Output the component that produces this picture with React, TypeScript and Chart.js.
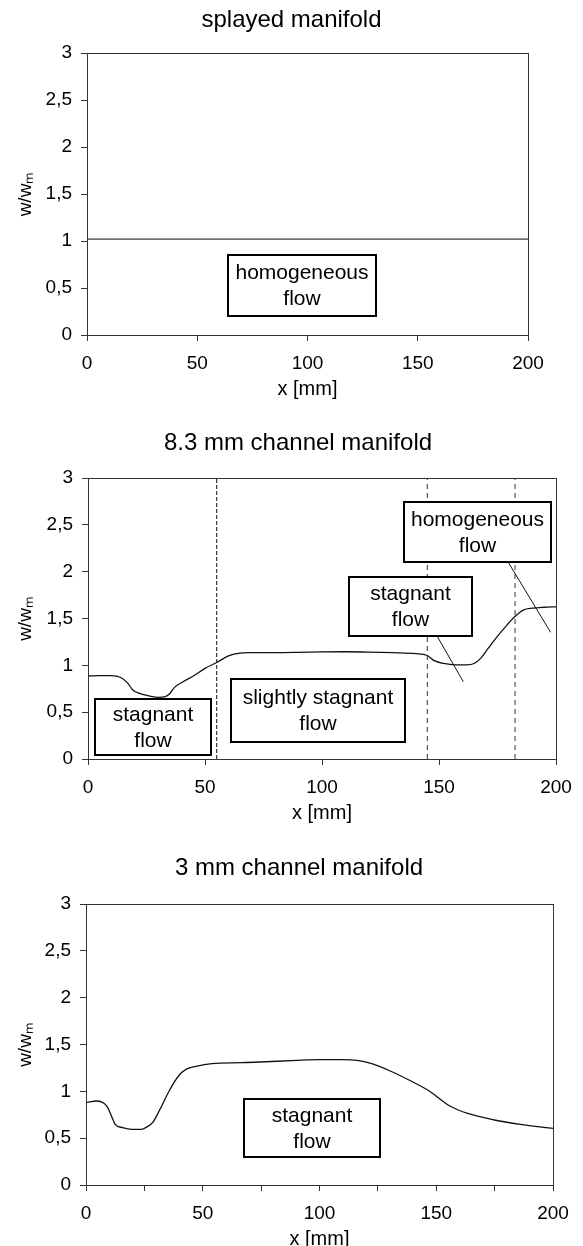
import React, { useEffect, useRef } from 'react';
import { Chart, registerables } from 'chart.js';

Chart.register(...registerables);

const FONT = "Arial, 'Liberation Sans', Helvetica, sans-serif";

// ---- text ----
const titles = ['splayed manifold', '8.3 mm channel manifold', '3 mm channel manifold'];
const xAxisTitle = 'x [mm]';
const yAxisTitle = 'w/wₘ';
const xTickLabels = ['0', '50', '100', '150', '200'];
const yTickLabels = ['0', '0,5', '1', '1,5', '2', '2,5', '3'];

// ---- chart 1: splayed manifold ----
const splayedX = [0, 200];
const splayedY = [1.02, 1.02];

// ---- chart 2: 8.3 mm channel manifold ----
const ch83X = [0, 5, 10, 14, 17, 19, 22, 26, 30, 33, 35, 37, 41, 45, 50, 55, 60, 65, 70, 80, 90, 100, 110, 120, 130, 140, 145, 148, 152, 157, 162, 165, 168, 171, 174, 178, 182, 186, 190, 195, 200];
const ch83Y = [0.886, 0.89, 0.89, 0.87, 0.81, 0.74, 0.7, 0.675, 0.658, 0.665, 0.7, 0.765, 0.83, 0.886, 0.968, 1.03, 1.1, 1.13, 1.135, 1.135, 1.138, 1.143, 1.145, 1.142, 1.135, 1.125, 1.105, 1.05, 1.02, 1.005, 1.005, 1.02, 1.08, 1.18, 1.28, 1.4, 1.51, 1.59, 1.61, 1.62, 1.625];
const ch83Dividers = [55, 145, 182.5];
const ch83LeaderFromX = [149, 179.6];
const ch83LeaderFromY = [1.32, 2.1];
const ch83LeaderToX = [160.4, 197.7];
const ch83LeaderToY = [0.825, 1.353];

// ---- chart 3: 3 mm channel manifold ----
const ch3X = [0, 4.6, 7.7, 9.3, 10.9, 12.5, 15.7, 19.7, 23.7, 26.1, 28.5, 31.7, 35.6, 39.6, 42.8, 47.6, 53.9, 66.7, 74.6, 90.5, 100.1, 109.7, 116, 122.4, 130.3, 138.3, 147, 155.8, 163.8, 174.9, 186, 200];
const ch3Y = [0.879, 0.897, 0.872, 0.826, 0.737, 0.648, 0.612, 0.594, 0.594, 0.62, 0.665, 0.808, 1.004, 1.164, 1.235, 1.27, 1.295, 1.306, 1.313, 1.331, 1.338, 1.338, 1.331, 1.295, 1.217, 1.121, 1.004, 0.843, 0.761, 0.694, 0.648, 0.605];

type Box = { x0: number; x1: number; y0: number; y1: number; lines: string[] };

const boxes1: Box[] = [{ x0: 64, x1: 131, y0: 0.2, y1: 0.85, lines: ['homogeneous', 'flow'] }];
const boxes2: Box[] = [
  { x0: 3.1, x1: 52.5, y0: 0.04, y1: 0.64, lines: ['stagnant', 'flow'] },
  { x0: 61.2, x1: 135.6, y0: 0.185, y1: 0.857, lines: ['slightly stagnant', 'flow'] },
  { x0: 111.4, x1: 164.1, y0: 1.316, y1: 1.946, lines: ['stagnant', 'flow'] },
  { x0: 135.1, x1: 198.0, y0: 2.1, y1: 2.74, lines: ['homogeneous', 'flow'] },
];
const boxes3: Box[] = [{ x0: 67.5, x1: 125.9, y0: 0.3, y1: 0.92, lines: ['stagnant', 'flow'] }];

const zip = (xs: number[], ys: number[]) => xs.map((x, i) => ({ x, y: ys[i] }));

const framePlugin = {
  id: 'frame',
  afterDraw(chart: any) {
    const { ctx, chartArea: a } = chart;
    ctx.save();
    ctx.strokeStyle = '#333';
    ctx.lineWidth = 1;
    const l = Math.round(a.left) + 0.5;
    const t = Math.round(a.top) + 0.5;
    const r = Math.round(a.right) + 0.5;
    const b = Math.round(a.bottom) + 0.5;
    ctx.strokeRect(l, t, r - l, b - t);
    ctx.restore();
  },
};

const makeBoxPlugin = (boxes: Box[]) => ({
  id: 'labelBoxes',
  afterDatasetsDraw(chart: any) {
    const { ctx } = chart;
    const xs = chart.scales.x;
    const ys = chart.scales.y;
    ctx.save();
    for (const bx of boxes) {
      const l = Math.round(xs.getPixelForValue(bx.x0));
      const r = Math.round(xs.getPixelForValue(bx.x1));
      const t = Math.round(ys.getPixelForValue(bx.y1));
      const b = Math.round(ys.getPixelForValue(bx.y0));
      ctx.fillStyle = '#fff';
      ctx.fillRect(l, t, r - l, b - t);
      ctx.strokeStyle = '#000';
      ctx.lineWidth = 2;
      ctx.strokeRect(l, t, r - l, b - t);
      ctx.fillStyle = '#000';
      ctx.font = `21px ${FONT}`;
      ctx.textAlign = 'center';
      ctx.textBaseline = 'middle';
      const cx = (l + r) / 2;
      const cy = (t + b) / 2;
      const gap = 26;
      const n = bx.lines.length;
      bx.lines.forEach((s, i) => {
        ctx.fillText(s, cx, cy + (i - (n - 1) / 2) * gap + 1);
      });
    }
    ctx.restore();
  },
});

type Panel = {
  width: number;
  height: number;
  top: number;
  title: string;
  titleTop: number;
  titleBottom: number;
  rightGap: number;
  padBottom: number;
  yWidth: number;
  xStep: number;
  datasets: any[];
  boxes: Box[];
};

function makeConfig(p: Panel): any {
  return {
    type: 'line',
    data: { datasets: p.datasets },
    options: {
      animation: false,
      responsive: false,
      devicePixelRatio: 1,
      layout: { padding: { left: 0, right: 0, top: 0, bottom: p.padBottom } },
      plugins: {
        legend: { display: false },
        tooltip: { enabled: false },
        title: {
          display: true,
          text: p.title,
          color: '#000',
          font: { family: FONT, size: 24, weight: 'normal', lineHeight: 1 },
          padding: { top: p.titleTop, bottom: p.titleBottom },
        },
      },
      scales: {
        x: {
          type: 'linear',
          min: 0,
          max: 200,
          ticks: {
            stepSize: p.xStep,
            autoSkip: false,
            maxRotation: 0,
            color: '#000',
            padding: 11,
            font: { family: FONT, size: 19 },
            callback: (v: number) => (v % 50 === 0 ? xTickLabels[Math.round(v / 50)] : ''),
          },
          grid: { drawOnChartArea: false, drawTicks: true, tickLength: 6, color: '#333' },
          border: { color: '#333' },
          title: {
            display: true,
            text: xAxisTitle,
            color: '#000',
            font: { family: FONT, size: 20 },
            padding: { top: 0, bottom: 0 },
          },
          afterFit: (s: any) => {
            s.height = 66;
          },
        },
        y: {
          type: 'linear',
          min: 0,
          max: 3,
          ticks: {
            stepSize: 0.5,
            color: '#000',
            padding: 9,
            font: { family: FONT, size: 19 },
            callback: (v: number) => yTickLabels[Math.round(v / 0.5)],
          },
          grid: { drawOnChartArea: false, drawTicks: true, tickLength: 6, color: '#333' },
          border: { color: '#333' },
          title: {
            display: true,
            text: yAxisTitle,
            color: '#000',
            font: { family: FONT, size: 19 },
            padding: { top: 6, bottom: 0 },
          },
          afterFit: (s: any) => {
            s.width = p.yWidth;
          },
        },
        yRightGap: {
          type: 'linear',
          position: 'right',
          display: true,
          min: 0,
          max: 3,
          grid: { display: false, drawTicks: false },
          border: { display: false },
          ticks: { display: false },
          title: { display: false },
          afterFit: (s: any) => {
            s.width = p.rightGap;
          },
        },
      },
    },
    plugins: [framePlugin, makeBoxPlugin(p.boxes)],
  };
}

const curve = (data: any[], color: string, width: number) => ({
  data,
  borderColor: color,
  borderWidth: width,
  pointRadius: 0,
  fill: false,
  cubicInterpolationMode: 'monotone',
});

const panels: Panel[] = [
  {
    width: 567,
    height: 415,
    top: 0,
    title: titles[0],
    titleTop: 0,
    titleBottom: 21,
    rightGap: 47,
    padBottom: 22,
    yWidth: 79,
    xStep: 50,
    datasets: [curve(zip(splayedX, splayedY), '#707070', 1.6)],
    boxes: boxes1,
  },
  {
    width: 580,
    height: 425,
    top: 415,
    title: titles[1],
    titleTop: 8,
    titleBottom: 23,
    rightGap: 32,
    padBottom: 23,
    yWidth: 80,
    xStep: 50,
    datasets: [
      ...ch83Dividers.map((d, i) => ({
        data: [
          { x: d, y: 0 },
          { x: d, y: 3 },
        ],
        borderColor: i === 0 ? '#111' : '#333',
        borderWidth: 1,
        borderDash: i === 0 ? [4, 2] : [5, 4],
        pointRadius: 0,
        fill: false,
      })),
      ...ch83LeaderFromX.map((fx, i) => ({
        data: [
          { x: fx, y: ch83LeaderFromY[i] },
          { x: ch83LeaderToX[i], y: ch83LeaderToY[i] },
        ],
        borderColor: '#111',
        borderWidth: 1,
        pointRadius: 0,
        fill: false,
      })),
      curve(zip(ch83X, ch83Y), '#111', 1.3),
    ],
    boxes: boxes2,
  },
  {
    width: 582,
    height: 403,
    top: 840,
    title: titles[2],
    titleTop: 8,
    titleBottom: 24,
    rightGap: 37,
    padBottom: 0,
    yWidth: 78,
    xStep: 25,
    datasets: [curve(zip(ch3X, ch3Y), '#111', 1.3)],
    boxes: boxes3,
  },
];

function ChartPanel({ p }: { p: Panel }) {
  const ref = useRef<HTMLCanvasElement | null>(null);
  useEffect(() => {
    if (!ref.current) return;
    const chart = new Chart(ref.current, makeConfig(p));
    return () => chart.destroy();
  }, [p]);
  return (
    <canvas
      ref={ref}
      width={p.width}
      height={p.height}
      style={{ position: 'absolute', left: 0, top: p.top, width: p.width, height: p.height }}
    />
  );
}

export default function App() {
  useEffect(() => {
    document.documentElement.style.overflow = 'hidden';
    document.body.style.overflow = 'hidden';
  }, []);
  return (
    <div style={{ position: 'relative', width: 575, height: 1238, overflow: 'hidden', background: '#fff' }}>
      {panels.map((p, i) => (
        <ChartPanel key={i} p={p} />
      ))}
    </div>
  );
}
